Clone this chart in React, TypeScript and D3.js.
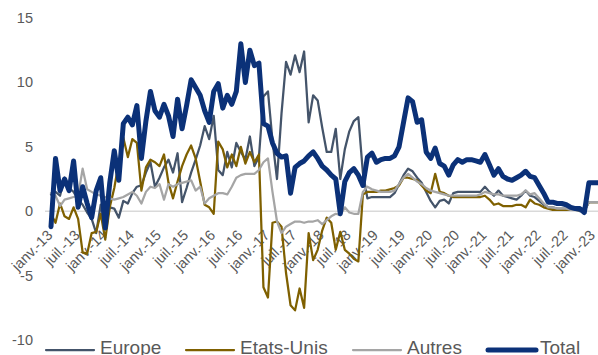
import React from 'react';
import * as d3 from 'd3';

const tickLabels = ['janv.-13','juil.-13','janv.-14','juil.-14','janv.-15','juil.-15','janv.-16','juil.-16','janv.-17','juil.-17','janv.-18','juil.-18','janv.-19','juil.-19','janv.-20','juil.-20','janv.-21','juil.-21','janv.-22','juil.-22','janv.-23'];
const yTicks = [-10, -5, 0, 5, 10, 15];
const seriesNames = ['Europe', 'Etats-Unis', 'Autres', 'Total'];

const europe = [1.3,1.5,1.2,2.6,1.8,1.5,0.9,0.5,-0.1,-0.6,-1.7,0.5,-1.2,0.3,0.2,-0.5,0.8,0.6,1.4,1.9,
2.0,3.0,3.8,1.9,2.6,3.4,4.0,3.0,4.5,0.7,1.8,3.0,4.0,5.1,6.6,5.6,7.4,3.2,2.8,4.6,
3.4,5.3,4.6,4.0,5.8,3.5,4.2,8.9,9.3,5.5,2.5,7.6,11.6,10.6,12.1,10.8,12.4,6.9,9.0,8.6,
6.5,4.6,4.6,6.4,2.5,4.8,6.2,7.0,7.3,3.0,1.0,1.1,1.1,1.1,1.1,1.1,1.4,2.1,2.8,3.3,
3.1,2.6,2.2,1.5,0.8,0.3,0.8,0.9,0.6,1.4,1.5,1.5,1.5,1.5,1.5,1.5,1.9,1.5,1.2,1.6,
1.2,1.1,1.0,0.9,1.2,1.6,1.2,1.1,0.8,0.5,0.3,0.3,0.2,0.2,0.2,0.1,0.1,0.0,0.0,0.7,0.7,0.7];

const etatsUnis = [-0.2,-0.9,0.6,-0.4,-0.6,0.3,-0.6,-3.2,-3.3,-1.7,-1.6,-0.2,-2.2,0.3,1.8,3.8,5.7,4.2,5.6,5.3,
1.6,3.4,4.0,3.8,3.5,4.4,2.2,1.0,2.3,3.5,4.4,5.1,4.1,2.3,0.5,0.3,-0.2,5.4,4.8,3.4,
4.4,3.5,5.0,3.7,4.6,3.8,4.4,-5.9,-6.7,-0.9,-0.8,-1.2,-4.8,-7.3,-7.7,-6.0,-7.5,-1.7,-3.8,-3.0,
-1.5,-0.5,-0.9,-3.0,-1.6,-3.0,-3.3,-3.7,-3.9,1.3,1.5,1.5,1.5,1.6,1.6,1.7,1.8,2.0,2.6,2.6,
2.5,2.4,2.0,1.6,1.4,2.9,1.5,1.4,1.2,1.1,1.1,1.1,1.1,1.1,1.1,1.1,1.2,0.9,0.5,0.6,
0.4,0.4,0.4,0.5,0.5,0.3,0.9,0.6,0.5,0.3,0.2,0.1,0.1,0.1,0.1,0.1,0.1,0.1,0.1,0.7,0.7,0.7];

const autres = [1.4,1.2,0.4,0.9,1.0,1.1,1.2,3.3,1.7,1.5,1.3,1.2,1.1,1.0,0.9,1.0,1.1,1.3,1.5,1.2,
0.6,1.5,1.9,1.8,2.1,0.9,2.1,1.9,2.1,2.2,2.3,2.4,1.6,1.9,0.6,1.0,1.2,1.4,1.4,1.3,
1.9,2.6,2.8,2.9,2.9,2.9,3.2,3.8,4.1,1.5,-0.8,-1.7,-1.2,-1.0,-0.8,-0.8,-0.9,-0.8,-0.8,-0.7,
-1.0,-0.7,-0.4,-0.2,-0.3,0.3,-0.1,-0.2,-0.2,1.5,1.9,1.7,1.6,1.5,1.5,1.5,1.6,2.1,2.6,2.9,
2.6,2.3,2.1,1.8,1.6,1.5,1.4,1.3,1.2,1.2,1.2,1.2,1.2,1.2,1.2,1.3,1.5,1.4,1.3,1.3,
1.2,1.2,1.2,1.2,1.3,1.6,1.3,1.4,1.0,0.6,0.3,0.3,0.2,0.2,0.2,0.1,0.1,0.1,0.1,0.7,0.7,0.7];

const total = [-1.2,4.1,1.6,2.5,1.6,3.9,0.3,1.9,0.6,-0.5,1.6,2.6,-1.3,2.2,4.7,2.4,6.8,7.3,6.7,8.2,
4.1,7.0,9.3,7.8,7.3,8.3,7.4,5.8,8.7,6.4,8.2,10.2,9.6,9.0,7.8,6.9,9.3,9.9,8.0,9.0,
8.3,9.3,13.0,10.0,12.5,11.3,11.5,6.8,6.6,5.3,4.5,4.2,4.3,1.4,3.4,3.7,3.9,4.3,4.6,4.1,
3.5,3.2,2.8,2.5,-0.2,2.3,3.0,3.3,2.8,2.0,4.2,4.5,3.8,4.0,4.1,4.1,4.3,5.0,6.9,8.8,
8.5,6.9,7.1,4.6,4.1,4.9,3.7,3.5,2.8,3.6,4.0,3.8,4.0,4.0,3.9,3.8,4.4,3.6,2.8,3.3,
2.7,2.5,2.4,2.6,2.8,3.1,2.7,2.6,2.0,1.4,0.7,0.7,0.6,0.6,0.5,0.3,0.2,0.2,-0.1,2.2,2.2,2.2];

const colors = ['#44546A', '#7F6000', '#A5A5A5', '#0B3178'];
const widths = [2.25, 2.25, 2.25, 5];

export default function App() {
  const W = 598, H = 355;
  const x = d3.scaleLinear().domain([0, 120]).range([51, 593.4]);
  const y = d3.scaleLinear().domain([-10, 15]).range([340, 18]);
  const line = d3.line<number>().x((_, i) => x(i)).y(d => y(d));
  const data = [europe, etatsUnis, autres, total];
  const font = '"Liberation Sans", Arial, sans-serif';
  const legendPos = [
    { lx: 46, tx: 100 },
    { lx: 186, tx: 240 },
    { lx: 353, tx: 407 },
    { lx: 488, tx: 540 },
  ];
  return (
    <svg width={W} height={H} style={{ position: 'fixed', left: 0, top: 0, background: '#fff' }} fontFamily={font}>
      <line x1={45} x2={598} y1={y(0)} y2={y(0)} stroke="#D9D9D9" strokeWidth={1.5} />
      {yTicks.map(t => (
        <text key={t} x={33} y={y(t)} textAnchor="end" dominantBaseline="central" fontSize={14.5} fill="#595959">{t}</text>
      ))}
      {tickLabels.map((l, k) => (
        <text key={l} transform={`translate(${x(k * 6) + 2.5},236) rotate(-45)`} textAnchor="end" fontSize={14.5} fill="#595959">{l}</text>
      ))}
      {data.map((d, k) => (
        <path key={k} d={line(d) || ''} fill="none" stroke={colors[k]} strokeWidth={widths[k]} strokeLinejoin="round" strokeLinecap="round" />
      ))}
      {seriesNames.map((n, k) => (
        <g key={n}>
          <line x1={legendPos[k].lx} x2={legendPos[k].lx + 48} y1={350} y2={350} stroke={colors[k]} strokeWidth={widths[k]} strokeLinecap="round" />
          <text x={legendPos[k].tx} y={354} fontSize={19} fill="#595959">{n}</text>
        </g>
      ))}
    </svg>
  );
}
